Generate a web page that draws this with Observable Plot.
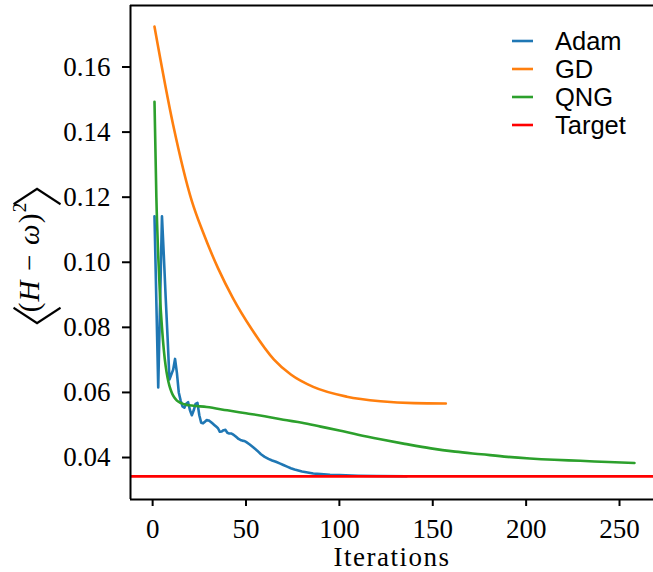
<!DOCTYPE html>
<html><head><meta charset="utf-8">
<script src="https://cdn.jsdelivr.net/npm/d3@7"></script>
<script src="https://cdn.jsdelivr.net/npm/@observablehq/plot@0.6"></script>
<style>html,body{margin:0;padding:0;background:#fff;overflow:hidden}</style>
</head><body><div id="chart"></div>
<script>
// ---- data ----
const adamIter = [1,3,5,6,7,8,9,11,12,13,14,15,16,17,18,19,20,21,22,23,24,25,26,27,28,29,30,31,32,33,34,35,36,37,38,39,40,41,42,43,44,45,46,47,48,49,50,52,54,56,58,60,62,64,66,68,70,72,74,76,78,80,83,86,90,95,100,110,120,136];
const adamLoss = [0.1141,0.0615,0.1141,0.102,0.089,0.077,0.064,0.067,0.0703,0.066,0.060,0.0575,0.0557,0.0553,0.0565,0.057,0.0545,0.053,0.0545,0.0565,0.0568,0.053,0.0507,0.0505,0.051,0.0515,0.0514,0.051,0.0505,0.050,0.0495,0.049,0.0479,0.048,0.0484,0.0485,0.0476,0.0474,0.0474,0.0471,0.0467,0.0462,0.0457,0.0454,0.0452,0.0451,0.0448,0.044,0.0431,0.0421,0.041,0.0402,0.0396,0.0391,0.0387,0.0382,0.0377,0.0372,0.0367,0.0363,0.036,0.0357,0.0354,0.0351,0.0349,0.0347,0.0346,0.0344,0.0343,0.03425];
const gdIter = [1,11,21,27,35,43,53,65,74,86,104,122,140,157];
const gdLoss = [0.1724,0.1422,0.1188,0.1092,0.0982,0.0890,0.0795,0.0701,0.0655,0.0617,0.0587,0.0573,0.0567,0.0566];
const qngIter = [1,2,3,4,5,6,7,8,9,10,11,13,15,18,22,29,40,50,60,70,80,90,100,110,122,135,149,162,176,190,202,215,229,244,258];
const qngLoss = [0.1493,0.12,0.102,0.089,0.080,0.073,0.068,0.0645,0.062,0.0603,0.059,0.0575,0.0568,0.0562,0.0559,0.0555,0.0545,0.0536,0.0527,0.0516,0.0507,0.0495,0.0483,0.047,0.0456,0.0442,0.0428,0.0418,0.041,0.0402,0.0397,0.0393,0.039,0.0386,0.0383];
const target = 0.0342;
const seriesNames = ["Adam","GD","QNG","Target"];
const seriesColors = ["#1f77b4","#ff7f0e","#2ca02c","#ff0000"];
const xTicks = [0,50,100,150,200,250];
const yTicks = [0.04,0.06,0.08,0.10,0.12,0.14,0.16];

const zip = (xs, ys) => xs.map((x, i) => ({x, y: ys[i]}));
const adam = zip(adamIter, adamLoss);
const gd = zip(gdIter, gdLoss);
const qng = zip(qngIter, qngLoss);

const xDomain = [-11.85, 268.2];
const yDomain = [0.0271, 0.1789];

const svg = Plot.plot({
  width: 653,
  height: 572,
  marginLeft: 130,
  marginRight: 0,
  marginTop: 5,
  marginBottom: 73,
  style: {fontFamily: "'Liberation Serif', serif", fontSize: "27px", background: "#fff", color: "#000", overflow: "visible"},
  x: {domain: xDomain},
  y: {domain: yDomain},
  marks: [
    Plot.axisX({ticks: xTicks, tickSize: 7, tickPadding: 12, strokeWidth: 2, label: null, fontSize: 27, tickFormat: d => String(d)}),
    Plot.axisY({ticks: yTicks, tickSize: 8, tickPadding: 12, strokeWidth: 2, label: null, fontSize: 27, tickFormat: d3.format(".2f")}),
    Plot.line(adam, {x: "x", y: "y", stroke: seriesColors[0], strokeWidth: 2.6}),
    Plot.line(gd, {x: "x", y: "y", stroke: seriesColors[1], strokeWidth: 2.6, curve: "monotone-x"}),
    Plot.line(qng, {x: "x", y: "y", stroke: seriesColors[2], strokeWidth: 2.6, curve: "monotone-x"}),
    Plot.ruleY([target], {stroke: seriesColors[3], strokeWidth: 2.6}),
    Plot.ruleY([yDomain[0], yDomain[1]], {stroke: "#000", strokeWidth: 2}),
    Plot.ruleX([xDomain[0]], {stroke: "#000", strokeWidth: 2})
  ]
});
document.getElementById("chart").appendChild(svg);

const s = d3.select(svg);
// legend
const lg = s.append("g");
seriesNames.forEach((name, i) => {
  const cy = 41 + 28 * i;
  lg.append("line").attr("x1", 512).attr("x2", 533).attr("y1", cy).attr("y2", cy)
    .attr("stroke", seriesColors[i]).attr("stroke-width", 2.6);
  lg.append("text").attr("x", 555).attr("y", cy + 9).attr("text-anchor", "start")
    .attr("font-family", "'Liberation Sans', sans-serif").attr("font-size", 25.5)
    .attr("fill", "#000").text(name);
});
// x label
s.append("text").attr("x", 392).attr("y", 566).attr("text-anchor", "middle")
  .attr("font-family", "'Liberation Serif', serif").attr("font-size", 27)
  .attr("letter-spacing", "1.5px").attr("fill", "#000")
  .text("Iterations");
// y label
const yl = s.append("g").attr("fill", "#000");
const t = yl.append("text").attr("transform", "translate(39,257) rotate(-90)")
  .attr("text-anchor", "middle").attr("font-family", "'Liberation Serif', serif")
  .attr("font-size", 29).attr("letter-spacing", "1.2px");
t.append("tspan").text("(");
t.append("tspan").attr("font-style", "italic").text("H");
t.append("tspan").text(" \u2212 ");
t.append("tspan").attr("font-style", "italic").text("ω");
t.append("tspan").text(")");
t.append("tspan").attr("dy", -13).attr("font-size", 19).text("2");
yl.append("text").attr("transform", "translate(34,330) rotate(-90)")
  .attr("text-anchor", "middle").attr("dominant-baseline", "central")
  .attr("font-family", "'Noto Sans CJK JP', sans-serif").attr("font-weight", 300).attr("font-size", 52).text("\u3008");
yl.append("text").attr("transform", "translate(34,182) rotate(-90)")
  .attr("text-anchor", "middle").attr("dominant-baseline", "central")
  .attr("font-family", "'Noto Sans CJK JP', sans-serif").attr("font-weight", 300).attr("font-size", 52).text("\u3009");
</script>
</body></html>
